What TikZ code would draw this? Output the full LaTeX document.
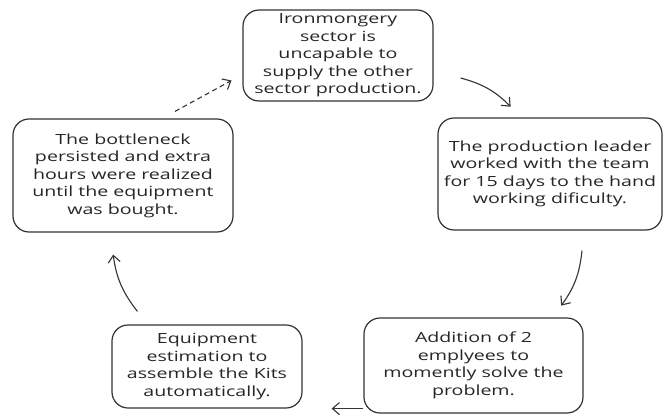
\documentclass[tikz,border=0pt]{standalone}
\usepackage{fontspec}
\setmainfont{Open Sans}[FakeStretch=1.4]
\usetikzlibrary{arrows.meta}

\begin{document}
\begin{tikzpicture}[x=1pt,y=-1pt,->,>={Straight Barb[length=7pt,width=12pt]},shorten >=1pt,line width=1.1pt,
    box node/.style={draw=black!80,line width=1.2pt,rounded corners=16pt,align=center,inner sep=0pt,font=\fontsize{14}{17.5}\selectfont,text=black!85}]
    \useasboundingbox (0,0) rectangle (664,415);
                \node[box node,minimum width=190,minimum height=91] (1) at (338,55.5) {Ironmongery\\sector is\\uncapable to\\supply the other\\sector production.};
                \node[box node,minimum width=224,minimum height=112] (2) at (550,174) {The production leader\\worked with the team\\for 15 days to the hand\\working dificulty.};
                \node[box node,minimum width=219,minimum height=95] (3) at (473.5,365.5) {Addition of 2\\emplyees to\\momently solve the\\problem.};
                \node[box node,minimum width=190,minimum height=83] (4) at (207,366.5) {Equipment\\estimation to\\assemble the Kits\\automatically.};
                \node[box node,minimum width=220,minimum height=113] (5) at (123,175.5) {The bottleneck\\persisted and extra\\hours were realized\\until the equipment\\was bought.};

                \path[every edge/.append style={draw=black!80}]
                    ([xshift=27,yshift=-22.5]1.east) edge[bend left=15] ([xshift=74,yshift=10]2.north west)
                    ([xshift=32,yshift=-20]2.south) edge[bend left=15] ([xshift=-23,yshift=11]3.north east)
                    ([yshift=5]3.south west) edge ([xshift=28]4.south east)
                    ([xshift=26,yshift=13]4.north west) edge[bend left=15] ([xshift=-10,yshift=-21]5.south)
                    ([xshift=52,yshift=7]5.north) edge[dash pattern=on 5pt off 3.5pt] ([xshift=-10,yshift=-24.5]1.west)
                    ;
            \end{tikzpicture}
\end{document}
